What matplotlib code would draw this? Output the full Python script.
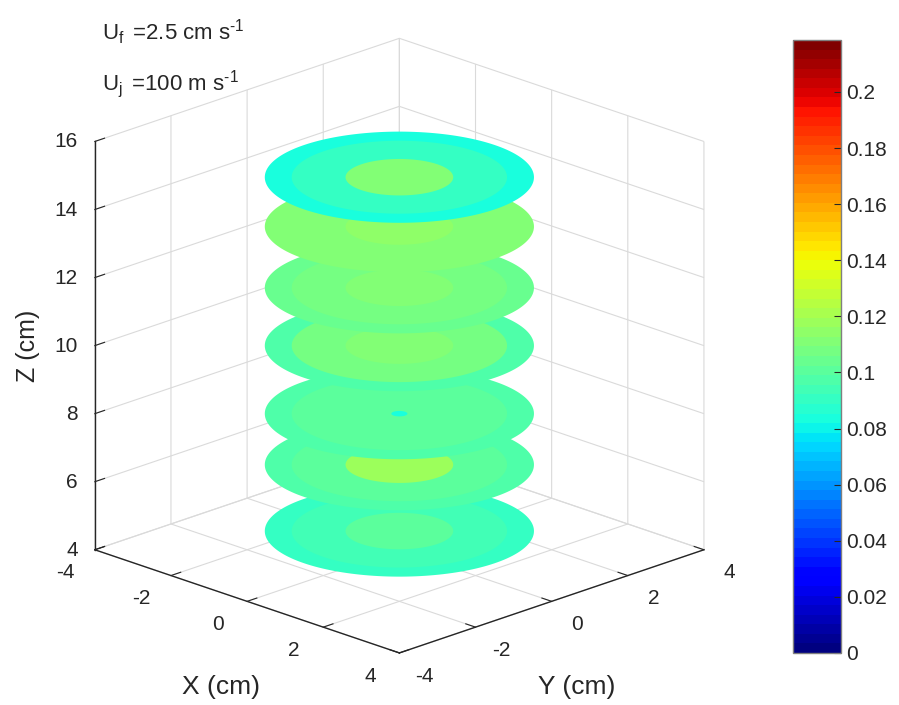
import numpy as np
import matplotlib
matplotlib.use("Agg")
import matplotlib.pyplot as plt
from matplotlib.cm import ScalarMappable
from matplotlib.colors import Normalize
from matplotlib.transforms import Affine2D
from mpl_toolkits.mplot3d.art3d import Poly3DCollection

plt.rcParams['font.family'] = ['Liberation Sans', 'DejaVu Sans']
plt.rcParams['mathtext.fontset'] = 'custom'
plt.rcParams['mathtext.rm'] = 'Liberation Sans'
plt.rcParams['mathtext.it'] = 'Liberation Sans'
plt.rcParams['mathtext.default'] = 'regular'
plt.rcParams['axes.unicode_minus'] = False

# heights of the planes, bottom one first
z_planes = [4.55, 6.5, 8.0, 10.0, 11.7, 13.5, 14.95]
ring_radii = [2.5, 2.0, 1.0]
# values per plane: outer, middle, inner ring
ring_values = [
    [0.091, 0.094, 0.101],
    [0.097, 0.102, 0.118],
    [0.097, 0.101, 0.101],
    [0.098, 0.107, 0.112],
    [0.105, 0.107, 0.110],
    [0.110, 0.110, 0.115],
    [0.082, 0.090, 0.1105],
]
# small spot in the middle of the z=8 plane
spot_z = 8.0
spot_radius = 0.15
spot_value = 0.082

xy_ticks = [-4, -2, 0, 2, 4]
z_ticks = [4, 6, 8, 10, 12, 14, 16]
cbar_ticks = [0, 0.02, 0.04, 0.06, 0.08, 0.1, 0.12, 0.14, 0.16, 0.18, 0.2]
cbar_labels = ['0', '0.02', '0.04', '0.06', '0.08', '0.1', '0.12', '0.14', '0.16', '0.18', '0.2']
vmin = 0
vmax = 0.2185

W, H = 899, 705
txt = '#262626'
cmap = plt.get_cmap('jet', 64)
norm = Normalize(vmin, vmax)

fig = plt.figure(figsize=(W / 100, H / 100), dpi=100, facecolor='white')
# square axes, shifted so the box lands where it should
side = 620
ax = fig.add_axes([(391 - side / 2) / W, (H - 354 - side / 2) / H, side / W, side / H],
                  projection='3d', computed_zorder=False)
ax.patch.set_alpha(0)
ax.set_proj_type('ortho')
ax.view_init(elev=19.8, azim=-45)
ax.set_xlim(-4, 4, view_margin=0)
ax.set_ylim(-4, 4, view_margin=0)
ax.set_zlim(4, 16, view_margin=0)
ax.set_box_aspect((1, 1, 1.0075), zoom=1.171)


def add_disc(radius, z, value, order):
    theta = np.linspace(0, 2 * np.pi, 181)
    verts = np.column_stack([radius * np.cos(theta), radius * np.sin(theta), np.full(theta.size, z)])
    poly = Poly3DCollection([verts], facecolor=cmap(norm(value)), edgecolor='none', zorder=order)
    ax.add_collection3d(poly)


def shift_ticklabels(axis, dx, dy):
    # Axis3D resets the label transforms every time it asks for its ticks
    original = axis.get_major_ticks

    def get_major_ticks(numticks=None):
        ticks = original(numticks)
        for tick in ticks:
            tick.label1.set_transform(ax.transData + Affine2D().translate(dx, dy))
        return ticks
    axis.get_major_ticks = get_major_ticks


def shift_label(axis, dx, dy):
    axis.label.get_transform = lambda: ax.transData + Affine2D().translate(dx, dy)


order = 10
for z, values in zip(z_planes, ring_values):
    for radius, value in zip(ring_radii, values):
        add_disc(radius, z, value, order)
        order += 1
    if z == spot_z:
        add_disc(spot_radius, z, spot_value, order)
        order += 1

ax.set_xticks(xy_ticks)
ax.set_yticks(xy_ticks)
ax.set_zticks(z_ticks)
ax.tick_params(labelsize=15, colors=txt, pad=0)
ax.zaxis.set_ticks_position('lower')
ax.zaxis.set_label_position('lower')

for axis in (ax.xaxis, ax.yaxis, ax.zaxis):
    axis.set_pane_color((1, 1, 1, 1))
    axis.pane.set_edgecolor('white')
    axis.line.set_color(txt)
    axis.line.set_linewidth(1.0)
    axis._axinfo['grid'].update(color='#dadada', linewidth=0.8)
    axis._axinfo['tick'].update(inward_factor=0.0, outward_factor=0.4, linewidth={True: 0.8, False: 0.5})
    axis.set_rotate_label(False)

ax.set_xlabel('X (cm)', fontsize=19, color=txt, labelpad=10)
ax.set_ylabel('Y (cm)', fontsize=19, color=txt, labelpad=10)
ax.set_zlabel('Z (cm)', fontsize=18, color=txt, labelpad=10, rotation=90)

for tick in ax.zaxis.get_major_ticks():
    tick.label1.set_ha('right')
shift_ticklabels(ax.xaxis, -19, 4)
shift_ticklabels(ax.yaxis, 15, 4)
shift_ticklabels(ax.zaxis, 4, 9)
shift_label(ax.xaxis, 15, -17)
shift_label(ax.yaxis, -16, -17)
shift_label(ax.zaxis, 14, 0)

fig.text(102 / W, 1 - 40 / H, 'U$_{f}\\,$ =2.5 cm s$^{\\text{-}1}$', fontsize=16, color=txt)
fig.text(102 / W, 1 - 90 / H, 'U$_{j}\\,$ =100 m s$^{\\text{-}1}$', fontsize=16, color=txt)

cax = fig.add_axes([793 / W, 1 - 653 / H, 48 / W, 613 / H])
cb = fig.colorbar(ScalarMappable(norm=norm, cmap=cmap), cax=cax)
cb.set_ticks(cbar_ticks)
cb.set_ticklabels(cbar_labels)
cb.ax.tick_params(direction='in', length=5, width=0.8, labelsize=15, labelcolor=txt, color=txt, pad=4)
cb.outline.set_edgecolor('#7f7f7f')
cb.outline.set_linewidth(1.0)

fig.savefig('out.png', dpi=100)
